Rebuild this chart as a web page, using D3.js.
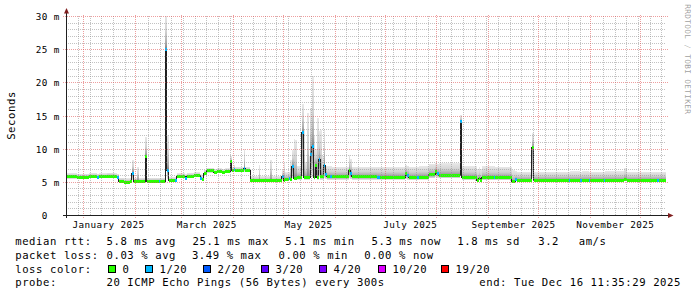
<!DOCTYPE html>
<html><head><meta charset="utf-8">
<script src="https://cdn.jsdelivr.net/npm/d3@7"></script>
<style>
html,body{margin:0;padding:0;background:#fff;}
svg{display:block;}
text{font-family:"DejaVu Sans Mono",monospace;white-space:pre;}
</style></head><body>
<svg id="chart" width="697" height="297"></svg>
<script>
// ---------------- data ----------------
const rangeStart = "2024-12-21T11:35:29Z";
const rangeEnd   = "2025-12-16T11:35:29Z";

// start date of each consolidated step (value holds until next step)
const stepDates = [
 "2024-12-21","2024-12-28","2025-01-04","2025-01-09","2025-01-10","2025-01-15","2025-01-20","2025-01-21","2025-01-22","2025-01-25","2025-01-29","2025-01-30","2025-01-31",
 "2025-02-02","2025-02-03","2025-02-07","2025-02-08","2025-02-15","2025-02-16","2025-02-19","2025-02-20","2025-02-21","2025-02-25","2025-02-26",
 "2025-03-03","2025-03-04","2025-03-08","2025-03-12","2025-03-13","2025-03-14","2025-03-16","2025-03-20","2025-03-22","2025-03-25","2025-03-27","2025-03-30","2025-03-31",
 "2025-04-01","2025-04-02","2025-04-07","2025-04-08","2025-04-11","2025-04-16","2025-04-17","2025-04-23","2025-04-24","2025-04-30",
 "2025-05-01","2025-05-02","2025-05-04","2025-05-05","2025-05-06","2025-05-07","2025-05-08","2025-05-09","2025-05-12","2025-05-13","2025-05-14","2025-05-15","2025-05-16","2025-05-17","2025-05-18","2025-05-19","2025-05-20","2025-05-21","2025-05-22","2025-05-23","2025-05-24","2025-05-25","2025-05-26","2025-05-27","2025-05-29","2025-05-30",
 "2025-06-09","2025-06-10","2025-06-11","2025-06-26","2025-06-28",
 "2025-07-13","2025-07-14","2025-07-15","2025-07-20","2025-07-21","2025-07-27","2025-07-31",
 "2025-08-01","2025-08-02","2025-08-15","2025-08-16","2025-08-25","2025-08-26","2025-08-27","2025-08-28",
 "2025-09-04","2025-09-05","2025-09-15","2025-09-17","2025-09-18","2025-09-27","2025-09-28",
 "2025-10-19","2025-10-20","2025-10-26","2025-10-27","2025-10-31",
 "2025-11-01","2025-11-09","2025-11-10","2025-11-21","2025-11-23",
 "2025-12-11","2025-12-12"
];
// median round-trip time (ms)
const medianMs = [
 5.85,5.80,5.90,5.80,5.85,5.95,5.85,5.75,5.20,5.05,5.15,6.40,5.20,
 5.20,5.20,8.90,5.20,5.20,5.20,25.10,6.85,5.25,5.25,5.90,
 5.60,5.95,6.05,5.65,5.45,6.40,6.75,6.45,6.65,6.45,6.65,8.10,6.80,
 6.95,6.80,7.10,6.85,5.30,5.30,5.30,5.30,5.30,5.85,
 5.35,5.45,5.55,5.40,7.40,5.60,5.60,5.70,12.50,5.70,5.70,5.70,5.80,9.20,10.40,5.80,7.60,5.80,8.40,5.90,5.90,7.60,6.20,5.85,5.85,5.85,
 6.85,6.35,5.85,5.80,5.80,
 6.35,6.10,5.75,5.75,5.80,6.15,6.70,
 6.35,6.10,14.10,5.75,5.35,5.60,5.25,5.70,
 5.70,5.70,5.10,5.40,5.35,10.20,5.35,
 5.35,5.35,5.35,5.35,5.35,
 5.35,5.35,5.35,5.50,5.35,
 5.35,5.35
];
// highest ping of the step (top of the smoke, ms)
const smokeMaxMs = [
 6.35,6.30,6.40,6.30,6.35,6.45,6.35,6.30,5.70,5.60,5.70,8.40,5.70,
 7.30,5.70,11.90,5.70,5.70,5.70,30.50,12.10,5.80,5.80,6.35,
 6.20,6.40,6.50,6.20,6.00,6.90,7.20,7.00,7.10,7.00,7.10,8.90,7.30,
 7.60,7.30,10.10,7.30,5.90,7.60,5.90,8.40,5.90,6.80,
 7.90,6.50,6.60,8.40,9.90,11.50,11.40,7.50,16.80,13.00,8.00,15.50,9.00,16.20,21.00,12.00,10.00,14.70,12.70,12.90,9.00,13.10,7.50,7.40,7.40,7.35,
 9.10,8.50,7.35,7.35,7.35,
 7.60,7.50,7.35,7.35,7.40,7.80,7.90,
 7.80,7.85,15.20,7.40,7.00,7.30,7.00,7.40,
 7.40,7.35,6.80,6.70,6.60,12.40,6.60,
 6.60,6.65,6.60,6.70,6.60,
 6.60,6.60,6.70,7.10,6.60,
 6.60,6.60
];
// lowest ping of the step (bottom of the smoke, ms)
const smokeMinMs = [
 5.55,5.55,5.60,5.55,5.60,5.65,5.60,5.50,5.00,4.90,5.00,5.40,5.00,
 5.00,5.00,5.60,5.00,5.00,5.00,21.00,5.50,5.05,5.05,5.65,
 5.40,5.70,5.80,5.40,5.25,6.10,6.45,6.20,6.40,6.20,6.40,6.60,6.50,
 6.60,6.50,6.60,6.55,5.10,5.10,5.10,5.10,5.10,5.30,
 5.10,5.20,5.30,5.20,5.60,5.30,5.30,5.40,6.00,5.40,5.40,5.40,5.40,5.80,5.80,5.40,5.60,5.40,5.80,5.40,5.40,5.60,5.50,5.40,5.40,5.40,
 5.60,5.50,5.40,5.40,5.40,
 5.50,5.40,5.35,5.35,5.40,5.60,5.80,
 5.70,5.60,6.00,5.35,5.10,5.30,5.05,5.35,
 5.35,5.35,4.95,5.15,5.10,5.60,5.10,
 5.10,5.10,5.10,5.10,5.10,
 5.10,5.10,5.10,5.20,5.10,
 5.10,5.10
];
// lost pings out of 20 in the step
const lossPings = [
 0,0,0,1,0,0,0,1,0,0,0,1,0,
 0,0,0,0,1,0,1,1,0,1,0,
 1,0,0,1,0,0,0,0,0,0,0,0,0,
 1,0,1,0,0,0,0,0,0,1,
 0,0,1,0,1,0,0,0,1,0,0,0,0,1,1,0,0,0,1,0,0,1,1,0,1,0,
 0,1,0,1,0,
 0,1,0,1,0,0,0,
 1,0,1,0,0,0,0,0,
 1,0,0,1,0,0,0,
 1,0,1,0,1,
 0,1,0,0,0,
 1,0
];

const lossThresholds = [0, 1, 2, 3, 4, 10, 19];
const lossColors = ["#26ff00","#00b8ff","#0059ff","#5e00ff","#7e00ff","#dd00ff","#ff0000"];
const lossLabels = ["0","1/20","2/20","3/20","4/20","10/20","19/20"];

const yTickValues = [0, 5, 10, 15, 20, 25, 30];
const yTickLabels = ["0  ", "5 m", "10 m", "15 m", "20 m", "25 m", "30 m"];
const monthLabelDates = ["2025-01-16","2025-03-16","2025-05-16","2025-07-16","2025-09-16","2025-11-16"];
const monthLabels = ["January 2025","March 2025","May 2025","July 2025","September 2025","November 2025"];

const rttStats = [5.8, 25.1, 5.1, 5.3, 1.8];      // avg, max, min, now, sd (ms)
const rttStatNames = ["avg", "max", "min", "now", "sd"];
const amPerSecond = 3.2;
const lossStats = [0.03, 3.49, 0.00, 0.00];        // avg, max, min, now (%)
const lossStatNames = ["avg", "max", "min", "now"];
const probeText = "20 ICMP Echo Pings (56 Bytes) every 300s";
const endText = "end: Tue Dec 16 11:35:29 2025";
const yAxisTitle = "Seconds";
const watermark = "RRDTOOL / TOBI OETIKER";

// ---------------- drawing ----------------
const svg = d3.select("#chart");
svg.append("rect").attr("width", 697).attr("height", 297).attr("fill", "#fff");

const parse = d3.utcParse("%Y-%m-%d");
const t0 = new Date(rangeStart), t1 = new Date(rangeEnd);
const x = d3.scaleUtc().domain([t0, t1]).range([66, 666]);
const y = d3.scaleLinear().domain([0, 30]).range([215.5, 16.5]);
const px = v => Math.floor(v) + 0.5;

const defs = svg.append("defs");
defs.append("clipPath").attr("id", "plotClip").append("rect")
  .attr("x", 66).attr("y", 16).attr("width", 600).attr("height", 199.5);
const gUp = defs.append("linearGradient").attr("id", "smokeUp")
  .attr("x1", 0).attr("y1", 0).attr("x2", 0).attr("y2", 1);
gUp.append("stop").attr("offset", "0").attr("stop-color", "#e8e8e8");
gUp.append("stop").attr("offset", "0.5").attr("stop-color", "#d2d2d2");
gUp.append("stop").attr("offset", "0.85").attr("stop-color", "#a8a8a8");
gUp.append("stop").attr("offset", "1").attr("stop-color", "#808080");
const gDn = defs.append("linearGradient").attr("id", "smokeDown")
  .attr("x1", 0).attr("y1", 0).attr("x2", 0).attr("y2", 1);
gDn.append("stop").attr("offset", "0").attr("stop-color", "#8a8a8a");
gDn.append("stop").attr("offset", "1").attr("stop-color", "#e4e4e4");

const dates = stepDates.map(parse);
const steps = dates.map((d, i) => ({
  x0: x(d),
  x1: i < dates.length - 1 ? x(dates[i + 1]) : x(t1),
  med: medianMs[i], hi: smokeMaxMs[i], lo: smokeMinMs[i], loss: lossPings[i]
}));
const lossColor = l => {
  let c = lossColors[0];
  lossThresholds.forEach((t, k) => { if (l >= t) c = lossColors[k]; });
  return c;
};

const plot = svg.append("g").attr("clip-path", "url(#plotClip)");
plot.selectAll("rect.smokeUp").data(steps).join("rect").attr("class", "smokeUp")
  .attr("x", s => s.x0).attr("width", s => s.x1 - s.x0)
  .attr("y", s => y(s.hi)).attr("height", s => Math.max(0, y(s.med) - y(s.hi)))
  .attr("fill", "url(#smokeUp)").attr("shape-rendering", "crispEdges");
plot.selectAll("rect.smokeDown").data(steps).join("rect").attr("class", "smokeDown")
  .attr("x", s => s.x0).attr("width", s => s.x1 - s.x0)
  .attr("y", s => y(s.med)).attr("height", s => Math.max(0, y(s.lo) - y(s.med)))
  .attr("fill", "url(#smokeDown)").attr("shape-rendering", "crispEdges");

const linePts = steps.map(s => [s.x0, y(s.med)]);
linePts.push([x(t1), y(medianMs[medianMs.length - 1])]);
plot.append("path")
  .attr("d", d3.line().curve(d3.curveStepAfter)(linePts))
  .attr("fill", "none").attr("stroke", "#202020").attr("stroke-width", 1)
  .attr("shape-rendering", "crispEdges");

plot.selectAll("rect.band").data(steps).join("rect").attr("class", "band")
  .attr("x", s => s.x0).attr("width", s => s.x1 - s.x0)
  .attr("y", s => y(s.med) - 1.5).attr("height", 3)
  .attr("fill", s => lossColor(s.loss)).attr("shape-rendering", "crispEdges");

// grid
const grid = svg.append("g").attr("fill", "none").attr("stroke-dasharray", "1,1");
const majorDates = d3.utcMonth.range(t0, t1);
const majorX = majorDates.map(d => px(x(d)));
d3.utcSunday.range(t0, t1).map(d => px(x(d)))
  .filter(v => v > 66.5 && !majorX.some(m => Math.abs(m - v) < 1.5))
  .forEach(v => grid.append("line").attr("x1", v).attr("x2", v).attr("y1", 16).attr("y2", 215)
    .attr("stroke", "rgba(143,143,143,0.55)"));
d3.range(1, 31).filter(v => v % 5 !== 0).forEach(v => {
  const yy = px(y(v));
  grid.append("line").attr("x1", 66).attr("x2", 666).attr("y1", yy).attr("y2", yy)
    .attr("stroke", "rgba(143,143,143,0.55)");
});
majorX.forEach(v => grid.append("line").attr("x1", v).attr("x2", v).attr("y1", 15).attr("y2", 218)
  .attr("stroke", "rgba(222,79,79,0.55)"));
yTickValues.filter(v => v > 0).forEach(v => {
  const yy = px(y(v));
  grid.append("line").attr("x1", 63).attr("x2", 669).attr("y1", yy).attr("y2", yy)
    .attr("stroke", "rgba(222,79,79,0.55)");
});

// axes
svg.append("line").attr("x1", 63).attr("x2", 669).attr("y1", 215.5).attr("y2", 215.5)
  .attr("stroke", "#1f1f1f");
svg.append("line").attr("x1", 66.5).attr("x2", 66.5).attr("y1", 13).attr("y2", 218)
  .attr("stroke", "#1f1f1f");
svg.append("path").attr("d", "M64,13.5L69,13.5L66.5,8Z").attr("fill", "#801f1f");
svg.append("path").attr("d", "M668,213L668,218L673.5,215.5Z").attr("fill", "#801f1f");

// axis labels
const axisFont = 9.3, axisAdv = 6;
const axisLS = axisAdv - 0.602 * axisFont;
svg.append("g").selectAll("text").data(yTickValues).join("text")
  .attr("x", (v, i) => 59.8 - yTickLabels[i].length * axisAdv)
  .attr("y", v => px(y(v)) + 3.3)
  .attr("font-size", axisFont).attr("letter-spacing", axisLS).attr("fill", "#000")
  .text((v, i) => yTickLabels[i]);
svg.append("g").selectAll("text").data(monthLabelDates).join("text")
  .attr("x", (d, i) => x(parse(d)) - monthLabels[i].length * axisAdv / 2)
  .attr("y", 228)
  .attr("font-size", axisFont).attr("letter-spacing", axisLS).attr("fill", "#000")
  .text((d, i) => monthLabels[i]);

const legFont = 10.6, legAdv = 6.96;
const legLS = legAdv - 0.602 * legFont;
svg.append("text").attr("transform", "translate(14.5,115.5) rotate(-90)")
  .attr("text-anchor", "middle").attr("font-size", legFont).attr("letter-spacing", legLS)
  .text(yAxisTitle);
svg.append("text").attr("transform", "translate(685,4.3) rotate(90)")
  .attr("font-size", 7.8).attr("letter-spacing", 5 - 0.602 * 7.8).attr("fill", "rgba(0,0,0,0.4)")
  .text(watermark);

// legend
const leg = svg.append("g").attr("font-size", legFont).attr("letter-spacing", legLS).attr("fill", "#000");
const f1 = d3.format(".1f"), f2 = d3.format(".2f");
const row1X = [106.5, 192.5, 285.2, 371.5, 457.3];
leg.append("text").attr("x", 15.2).attr("y", 245.3).text("median rtt:");
rttStats.forEach((v, i) => leg.append("text").attr("x", row1X[i]).attr("y", 245.3)
  .text(`${f1(v)} ms ${rttStatNames[i]}`));
leg.append("text").attr("x", 538.2).attr("y", 245.3).text(f1(amPerSecond));
leg.append("text").attr("x", 578.7).attr("y", 245.3).text("am/s");

const row2X = [106.5, 191.9, 278.5, 364.2];
leg.append("text").attr("x", 15.2).attr("y", 259).text("packet loss:");
lossStats.forEach((v, i) => leg.append("text").attr("x", row2X[i]).attr("y", 259)
  .text(`${f2(v)} % ${lossStatNames[i]}`));

const swX = [108.5, 145.5, 203.5, 261.5, 319.5, 378.5, 441.5];
leg.append("text").attr("x", 15.2).attr("y", 272.7).text("loss color:");
lossColors.forEach((c, i) => {
  svg.append("rect").attr("x", swX[i]).attr("y", 265.5).attr("width", 7).attr("height", 7)
    .attr("fill", c).attr("stroke", "#000").attr("stroke-width", 1);
  leg.append("text").attr("x", swX[i] + 14).attr("y", 272.7).text(lossLabels[i]);
});

leg.append("text").attr("x", 15.2).attr("y", 286.3).text("probe:");
leg.append("text").attr("x", 106.5).attr("y", 286.3).text(probeText);
leg.append("text").attr("x", 680.5 - endText.length * legAdv + legLS).attr("y", 286.3).text(endText);
</script>
</body></html>
